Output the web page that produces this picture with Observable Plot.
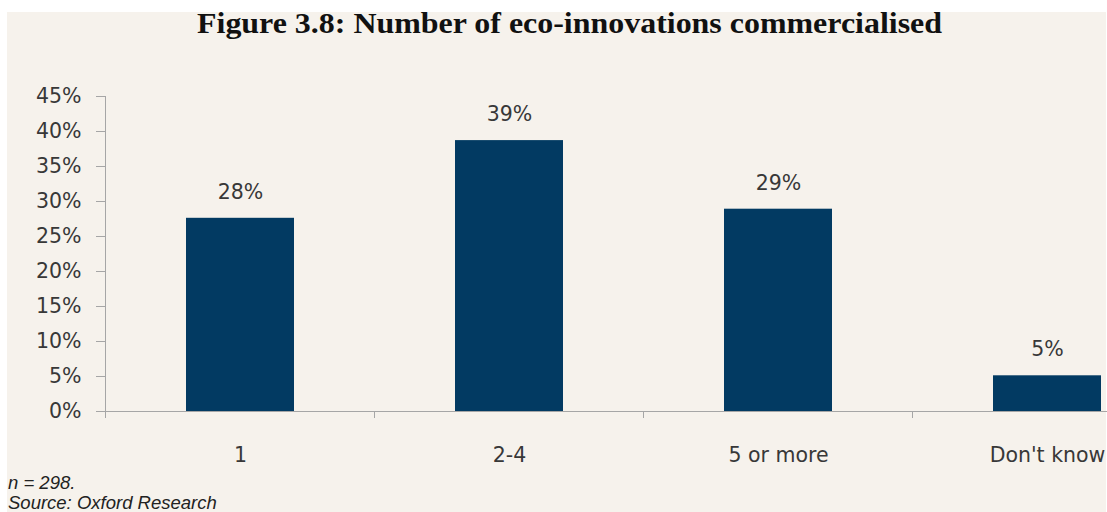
<!DOCTYPE html>
<html><head><meta charset="utf-8">
<script src="https://cdn.jsdelivr.net/npm/d3@7"></script>
<script src="https://cdn.jsdelivr.net/npm/@observablehq/plot@0.6"></script>
<style>
html,body{margin:0;padding:0;background:#fff;overflow:hidden;width:1107px;height:512px;}
#bg{position:absolute;left:7px;top:12px;width:1099px;height:500px;background:#f6f2ec;}
#title{position:absolute;left:0;top:0;}
#chart{position:absolute;left:0;top:60px;width:1200px;}
#chart svg{max-width:none !important;}
#caption{position:absolute;left:8px;top:473px;font-family:"Liberation Sans",sans-serif;font-style:italic;font-size:18.5px;line-height:20px;color:#222;}
</style></head><body>
<div id="bg"></div>
<svg id="title" width="1107" height="50"><text x="569.5" y="33" text-anchor="middle" textLength="745" lengthAdjust="spacingAndGlyphs" font-family="Liberation Serif" font-weight="bold" font-size="29" fill="#111">Figure 3.8: Number of eco-innovations commercialised</text></svg>
<div id="chart"></div>
<div id="caption">n = 298.<br>Source: Oxford Research</div>
<script>
const categories = ["1", "2-4", "5 or more", "Don't know"];
const shares = [0.276, 0.387, 0.289, 0.051];
const valueLabels = ["28%", "39%", "29%", "5%"];
const yTicks = [0, 0.05, 0.10, 0.15, 0.20, 0.25, 0.30, 0.35, 0.40, 0.45];

const data = categories.map((c, i) => ({category: c, share: shares[i], label: valueLabels[i]}));
const axisColor = "#a6a6a6";

const plot = Plot.plot({
  width: 1200, height: 411,
  marginLeft: 105, marginRight: 19, marginTop: 36, marginBottom: 60,
  style: {background: "transparent", fontFamily: "'DejaVu Sans', sans-serif", fontSize: "20.5px", color: "#383838", overflow: "visible", maxWidth: "none"},
  x: {domain: categories, paddingInner: 0.6, paddingOuter: 0.3, label: null},
  y: {domain: [0, 0.45], label: null},
  marks: [
    Plot.axisY({ticks: yTicks, tickFormat: d3.format(".0%"), tickSize: 9, tickPadding: 15, stroke: axisColor, label: null}),
    Plot.axisX({tickSize: 0, tickPadding: 36, label: null}),
    Plot.frame({anchor: "left", stroke: axisColor}),
    Plot.barY(data, {x: "category", y: "share", fill: "#023a62"}),
    Plot.ruleY([0], {stroke: axisColor}),
    Plot.text(data, {x: "category", y: "share", text: "label", dy: -26, fill: "#383838"})
  ]
});

// boundary tick marks on the category axis, computed from the band scale
const xs = plot.scale("x");
const ys = plot.scale("y");
const step = xs.step, bw = xs.bandwidth;
const bounds = categories.map(c => xs.apply(c) - (step - bw) / 2);
bounds.push(bounds[bounds.length - 1] + step);
const y0 = ys.apply(0);
d3.select(plot).append("g")
  .selectAll("line").data(bounds).join("line")
  .attr("x1", d => d).attr("x2", d => d)
  .attr("y1", y0).attr("y2", y0 + 7)
  .attr("stroke", axisColor);

document.getElementById("chart").appendChild(plot);
</script>
</body></html>
